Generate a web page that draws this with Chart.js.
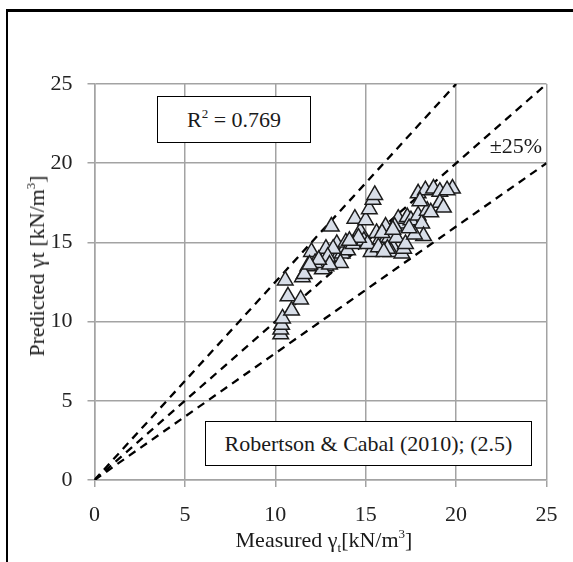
<!DOCTYPE html>
<html>
<head>
<meta charset="utf-8">
<script src="https://cdn.jsdelivr.net/npm/chart.js@4.4.1/dist/chart.umd.min.js"></script>
<style>
html,body{margin:0;padding:0;background:#fff;}
#wrap{position:relative;width:573px;height:562px;overflow:hidden;background:#fff;}
#frame{position:absolute;left:6px;top:9px;width:620px;height:620px;border-left:2.5px solid #000;border-top:3px solid #000;}
#plot{position:absolute;left:0;top:0;}
.txt{position:absolute;font-family:"Liberation Serif",serif;font-size:22px;line-height:22px;color:#1a1a1a;white-space:nowrap;}
.box{position:absolute;box-sizing:border-box;border:1.5px solid #000;background:#fff;display:flex;align-items:center;justify-content:center;font-family:"Liberation Serif",serif;font-size:22px;line-height:22px;color:#1a1a1a;white-space:nowrap;}
sup{font-size:13px;vertical-align:9px;line-height:0;}
sub{font-size:13px;vertical-align:-5px;line-height:0;}
</style>
</head>
<body>
<div id="wrap">
  <div id="frame"></div>
  <canvas id="plot" width="573" height="562"></canvas>
  <div class="box" style="left:157px;top:96px;width:154px;height:47px;"><span>R<sup>2</sup> = 0.769</span></div>
  <div class="box" style="left:205px;top:421px;width:327px;height:45px;"><span>Robertson &amp; Cabal (2010); (2.5)</span></div>
  <div class="txt" style="left:516px;top:135px;transform:translateX(-50%);">±25%</div>
  <div class="txt" style="left:324px;top:529px;transform:translateX(-50%);">Measured γ<sub>t</sub>[kN/m<sup>3</sup>]</div>
  <div class="txt" style="left:37px;top:266px;transform:translate(-50%,-50%) rotate(-90deg);">Predicted γt [kN/m<sup>3</sup>]</div>
</div>
<script>
// measured vs predicted unit weight (kN/m3)
const measured = [
  10.3,10.3,10.35,10.4,10.9,10.7,11.4,10.55,11.5,11.8,
  11.6,12.0,12.7,12.8,12.6,12.2,12.8,13.1,13.4,13.4,
  13.7,13.6,13.9,14.0,14.3,14.4,14.7,14.9,15.0,15.2,
  15.4,15.5,15.3,15.1,15.6,15.8,16.1,16.0,16.3,16.5,
  16.4,16.7,16.9,16.8,17.0,17.1,17.2,16.6,17.3,17.5,
  17.9,18.1,18.2,18.4,17.9,18.3,18.75,19.1,19.8,19.1,
  19.3,18.6,15.9,14.6,13.2,12.9,16.2,16.5,17.7,14.1,
  13.0,12.4,11.9,15.7,16.0,17.4,18.0,19.5
];
const predicted = [
  9.2,9.5,9.8,10.2,10.7,11.6,11.4,12.6,12.8,13.5,
  13.0,14.4,14.0,13.5,13.3,13.7,14.6,16.0,14.0,14.9,
  14.3,13.7,15.0,14.5,14.9,16.5,15.7,15.1,16.4,17.1,
  17.7,18.0,14.4,14.9,15.6,15.2,16.0,15.0,15.3,14.7,
  14.4,15.3,16.2,16.5,14.3,14.6,14.9,16.0,16.6,16.4,
  16.7,16.2,15.4,17.0,18.1,18.3,18.4,18.2,18.4,17.5,
  17.2,16.9,15.6,15.3,14.6,14.1,14.6,15.8,15.5,15.1,
  13.6,13.9,13.6,14.7,14.4,15.9,17.6,18.3
];

// reference lines: 1:1 and ±25 %
const lineOneToOne = [[0,0],[25,25]];
const linePlus25 = [[0,0],[20,25]];
const lineMinus25 = [[0,0],[25,20]];

const axisTicks = [0,5,10,15,20,25];

const toXY = arr => arr.map(p => ({x:p[0], y:p[1]}));
const points = measured.map((m,i) => ({x:m, y:predicted[i]}));

const gridCol = '#a3a3a3';
const tickFont = {family:'Liberation Serif', size:22};

function dashed(data){
  return {type:'line', data:toXY(data), borderColor:'#000', borderWidth:2.3, borderDash:[8,6],
    pointRadius:0, fill:false, tension:0};
}

new Chart(document.getElementById('plot'), {
  type:'scatter',
  data:{datasets:[
    {data:points, pointStyle:'triangle', pointRadius:9, pointHoverRadius:9,
     backgroundColor:'#d8dee8', borderColor:'#1c1c1c', borderWidth:1.5},
    dashed(lineOneToOne),
    dashed(linePlus25),
    dashed(lineMinus25)
  ]},
  options:{
    responsive:false, animation:false, events:[],
    layout:{padding:{left:0, top:84, right:26.5, bottom:0}},
    plugins:{legend:{display:false}, tooltip:{enabled:false}},
    scales:{
      x:{type:'linear', min:0, max:25,
        afterBuildTicks:s=>{s.ticks=axisTicks.map(v=>({value:v}));},
        ticks:{color:'#222', font:tickFont, padding:15},
        grid:{color:gridCol, lineWidth:1.5, tickLength:7},
        border:{color:gridCol, width:1.5},
        afterFit:s=>{s.height=82;}},
      y:{type:'linear', min:0, max:25,
        afterBuildTicks:s=>{s.ticks=axisTicks.map(v=>({value:v}));},
        ticks:{color:'#222', font:tickFont, padding:15},
        grid:{color:gridCol, lineWidth:1.5, tickLength:7},
        border:{color:gridCol, width:1.5},
        afterFit:s=>{s.width=94.5;}}
    }
  }
});
</script>
</body>
</html>
